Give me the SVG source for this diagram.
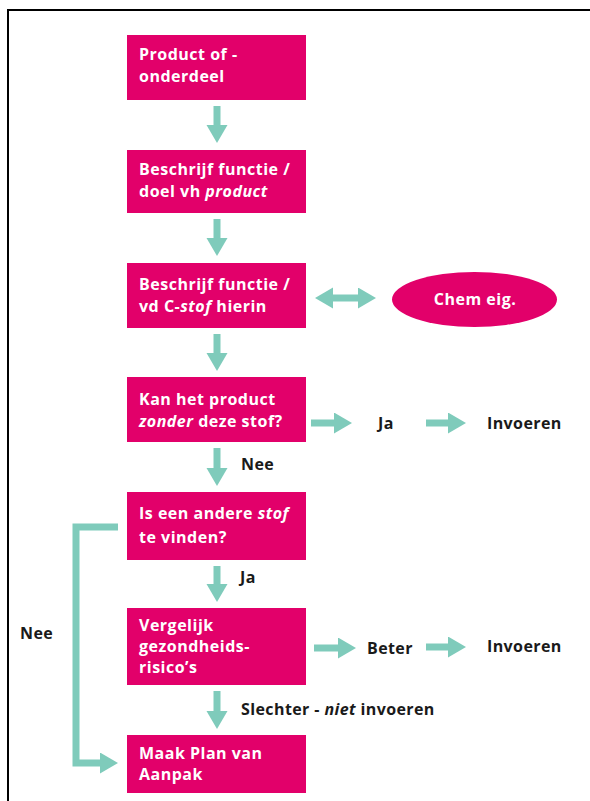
<svg xmlns="http://www.w3.org/2000/svg" width="590" height="801" viewBox="0 0 590 801">
<style>
.box{fill:#e2006a}
.t{font-family:"Open Sans","Liberation Sans",sans-serif;font-weight:bold;font-size:16px;letter-spacing:0.5px;fill:#ffffff}
.l{font-family:"Open Sans","Liberation Sans",sans-serif;font-weight:bold;font-size:16px;letter-spacing:0.4px;fill:#1a1a1a}
.c{fill:none;stroke:#7fcbbb;stroke-width:7}
.i{font-style:italic}
</style>
<defs>
<marker id="ah" markerUnits="userSpaceOnUse" markerWidth="20" markerHeight="22" refX="0" refY="10.5" orient="auto-start-reverse" viewBox="0 0 20 22">
<path d="M0,0 L18,10.5 L0,21 z" fill="#7fcbbb"/>
</marker>
</defs>
<rect width="590" height="801" fill="#ffffff"/>
<path d="M8,801 V10 H590" fill="none" stroke="#000000" stroke-width="2"/>
<g id="connectors">
<line class="c" x1="217" y1="106" x2="217" y2="125" marker-end="url(#ah)"/>
<line class="c" x1="217" y1="219" x2="217" y2="238" marker-end="url(#ah)"/>
<line class="c" x1="217" y1="334" x2="217" y2="353" marker-end="url(#ah)"/>
<line class="c" x1="217" y1="448" x2="217" y2="468" marker-end="url(#ah)"/>
<line class="c" x1="217" y1="566" x2="217" y2="584" marker-end="url(#ah)"/>
<line class="c" x1="217" y1="691" x2="217" y2="711" marker-end="url(#ah)"/>
<line class="c" x1="333" y1="298" x2="358" y2="298" marker-start="url(#ah)" marker-end="url(#ah)"/>
<line class="c" x1="311" y1="423" x2="334" y2="423" marker-end="url(#ah)"/>
<line class="c" x1="426" y1="423" x2="448" y2="423" marker-end="url(#ah)"/>
<line class="c" x1="314" y1="648" x2="338" y2="648" marker-end="url(#ah)"/>
<line class="c" x1="426" y1="647" x2="448" y2="647" marker-end="url(#ah)"/>
<path class="c" d="M118,527 H76 V763 H100" marker-end="url(#ah)"/>
<text class="l" x="241" y="470">Nee</text>
<text class="l" x="378" y="429">Ja</text>
<text class="l" x="240" y="583">Ja</text>
<text class="l" x="367" y="654">Beter</text>
<text class="l" x="241" y="715">Slechter - <tspan class="i">niet</tspan> invoeren</text>
<text class="l" x="20" y="639">Nee</text>
</g>
<g id="n1">
<rect class="box" x="127" y="35" width="179" height="65"/>
<text class="t" x="139" y="60">Product of -</text>
<text class="t" x="139" y="82">onderdeel</text>
</g>
<g id="n2">
<rect class="box" x="127" y="150" width="179" height="63"/>
<text class="t" x="139" y="175">Beschrijf functie /</text>
<text class="t" x="139" y="197">doel vh <tspan class="i">product</tspan></text>
</g>
<g id="n3">
<rect class="box" x="127" y="263" width="179" height="65"/>
<text class="t" x="139" y="290">Beschrijf functie /</text>
<text class="t" x="139" y="312">vd C-<tspan class="i">stof</tspan> hierin</text>
</g>
<g id="n4">
<ellipse class="box" cx="474.5" cy="299.5" rx="82.5" ry="27.5"/>
<text class="t" x="475" y="305" text-anchor="middle">Chem eig.</text>
</g>
<g id="n5">
<rect class="box" x="127" y="377" width="179" height="65"/>
<text class="t" x="139" y="405">Kan het product</text>
<text class="t" x="139" y="427"><tspan class="i">zonder</tspan> deze stof?</text>
</g>
<g id="n6">
<text class="l" x="487" y="429">Invoeren</text>
</g>
<g id="n7">
<rect class="box" x="127" y="492" width="179" height="68"/>
<text class="t" x="139" y="519">Is een andere <tspan class="i">stof</tspan></text>
<text class="t" x="139" y="543">te vinden?</text>
</g>
<g id="n8">
<rect class="box" x="127" y="608" width="179" height="77"/>
<text class="t" x="139" y="631">Vergelijk</text>
<text class="t" x="139" y="652">gezondheids-</text>
<text class="t" x="139" y="673">risico’s</text>
</g>
<g id="n9">
<text class="l" x="487" y="652">Invoeren</text>
</g>
<g id="n10">
<rect class="box" x="127" y="735" width="179" height="58"/>
<text class="t" x="139" y="759">Maak Plan van</text>
<text class="t" x="139" y="780">Aanpak</text>
</g>
</svg>
